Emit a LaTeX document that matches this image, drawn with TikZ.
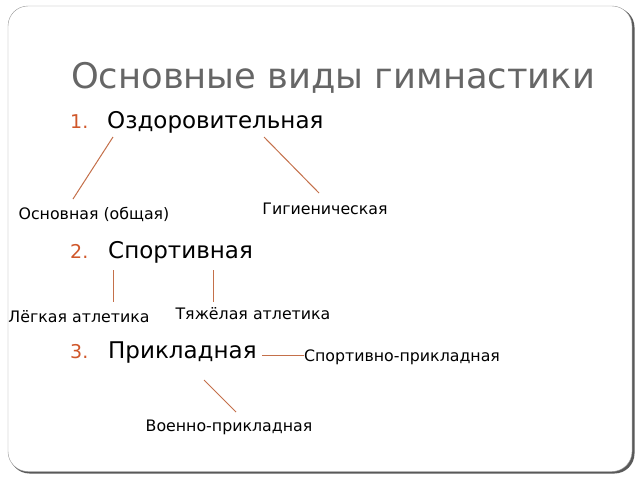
\documentclass[tikz,border=0pt]{standalone}
\usepackage{fontspec}
\setmainfont{DejaVu Sans}
\usepackage{xcolor}
\usetikzlibrary{positioning}

\definecolor{numcol}{HTML}{D0572A}
\definecolor{linkcol}{HTML}{C4704A}
\definecolor{titlecol}{HTML}{666666}

\begin{document}
\begin{tikzpicture}[
  x=1pt, y=-1pt,
  title/.style={
    anchor=base west,
    inner sep=0pt,
    text=titlecol,
    font=\fontsize{35.3}{38}\selectfont
  },
  num/.style={
    anchor=base west,
    inner sep=0pt,
    text=numcol,
    font=\fontsize{19}{22}\selectfont
  },
  item/.style={
    anchor=base west,
    inner sep=0pt,
    font=\fontsize{23}{26}\selectfont
  },
  kind/.style={
    anchor=base,
    inner sep=0pt,
    font=\fontsize{15.8}{18}\selectfont
  },
  link/.style={
    line width=1pt,
    draw=linkcol
  }
]
\useasboundingbox (0,0) rectangle (640,480);

% Slide frame
\fill[black!65, rounded corners=20pt] (9.5,7.5) rectangle (634.5,473.5);
\draw[black!40, fill=white, rounded corners=20pt] (8,6) rectangle (632,471.5);

% Title
\node[title] (head) at (71,88) {Основные виды гимнастики};

% List
\node[num] (n1) at (70,128) {1.};
\node[item] (zdor) at (107,128) {Оздоровительная};
\node[num] (n2) at (70,258) {2.};
\node[item] (sport) at (108,258) {Спортивная};
\node[num] (n3) at (70,358) {3.};
\node[item] (prikl) at (108,358) {Прикладная};

% Kinds
\node[kind] (osnov) at (94,219) {Основная (общая)};
\node[kind] (gig) at (325,214) {Гигиеническая};
\node[kind] (legk) at (79,322) {Лёгкая атлетика};
\node[kind] (tyazh) at (253,319) {Тяжёлая атлетика};
\node[kind] (sprik) at (402,361) {Спортивно-прикладная};
\node[kind] (voen) at (229,431) {Военно-прикладная};

% Connector ends
\coordinate (zdorL) at (113,137);
\coordinate (zdorR) at (264,137);
\coordinate (osnovT) at (73,199);
\coordinate (gigT) at (319,193);
\coordinate (sportL) at (113,270);
\coordinate (sportR) at (213,270);
\coordinate (legkT) at (113,302);
\coordinate (tyazhT) at (213,302);
\coordinate (priklR) at (262,355);
\coordinate (priklB) at (204,380);
\coordinate (voenT) at (236,412);

% Connections
\draw[link] (zdorL) -- (osnovT);
\draw[link] (zdorR) -- (gigT);
\draw[link] (sportL) -- (legkT);
\draw[link] (sportR) -- (tyazhT);
\draw[link] (priklR) -- (priklR -| sprik.west);
\draw[link] (priklB) -- (voenT);
\end{tikzpicture}
\end{document}
